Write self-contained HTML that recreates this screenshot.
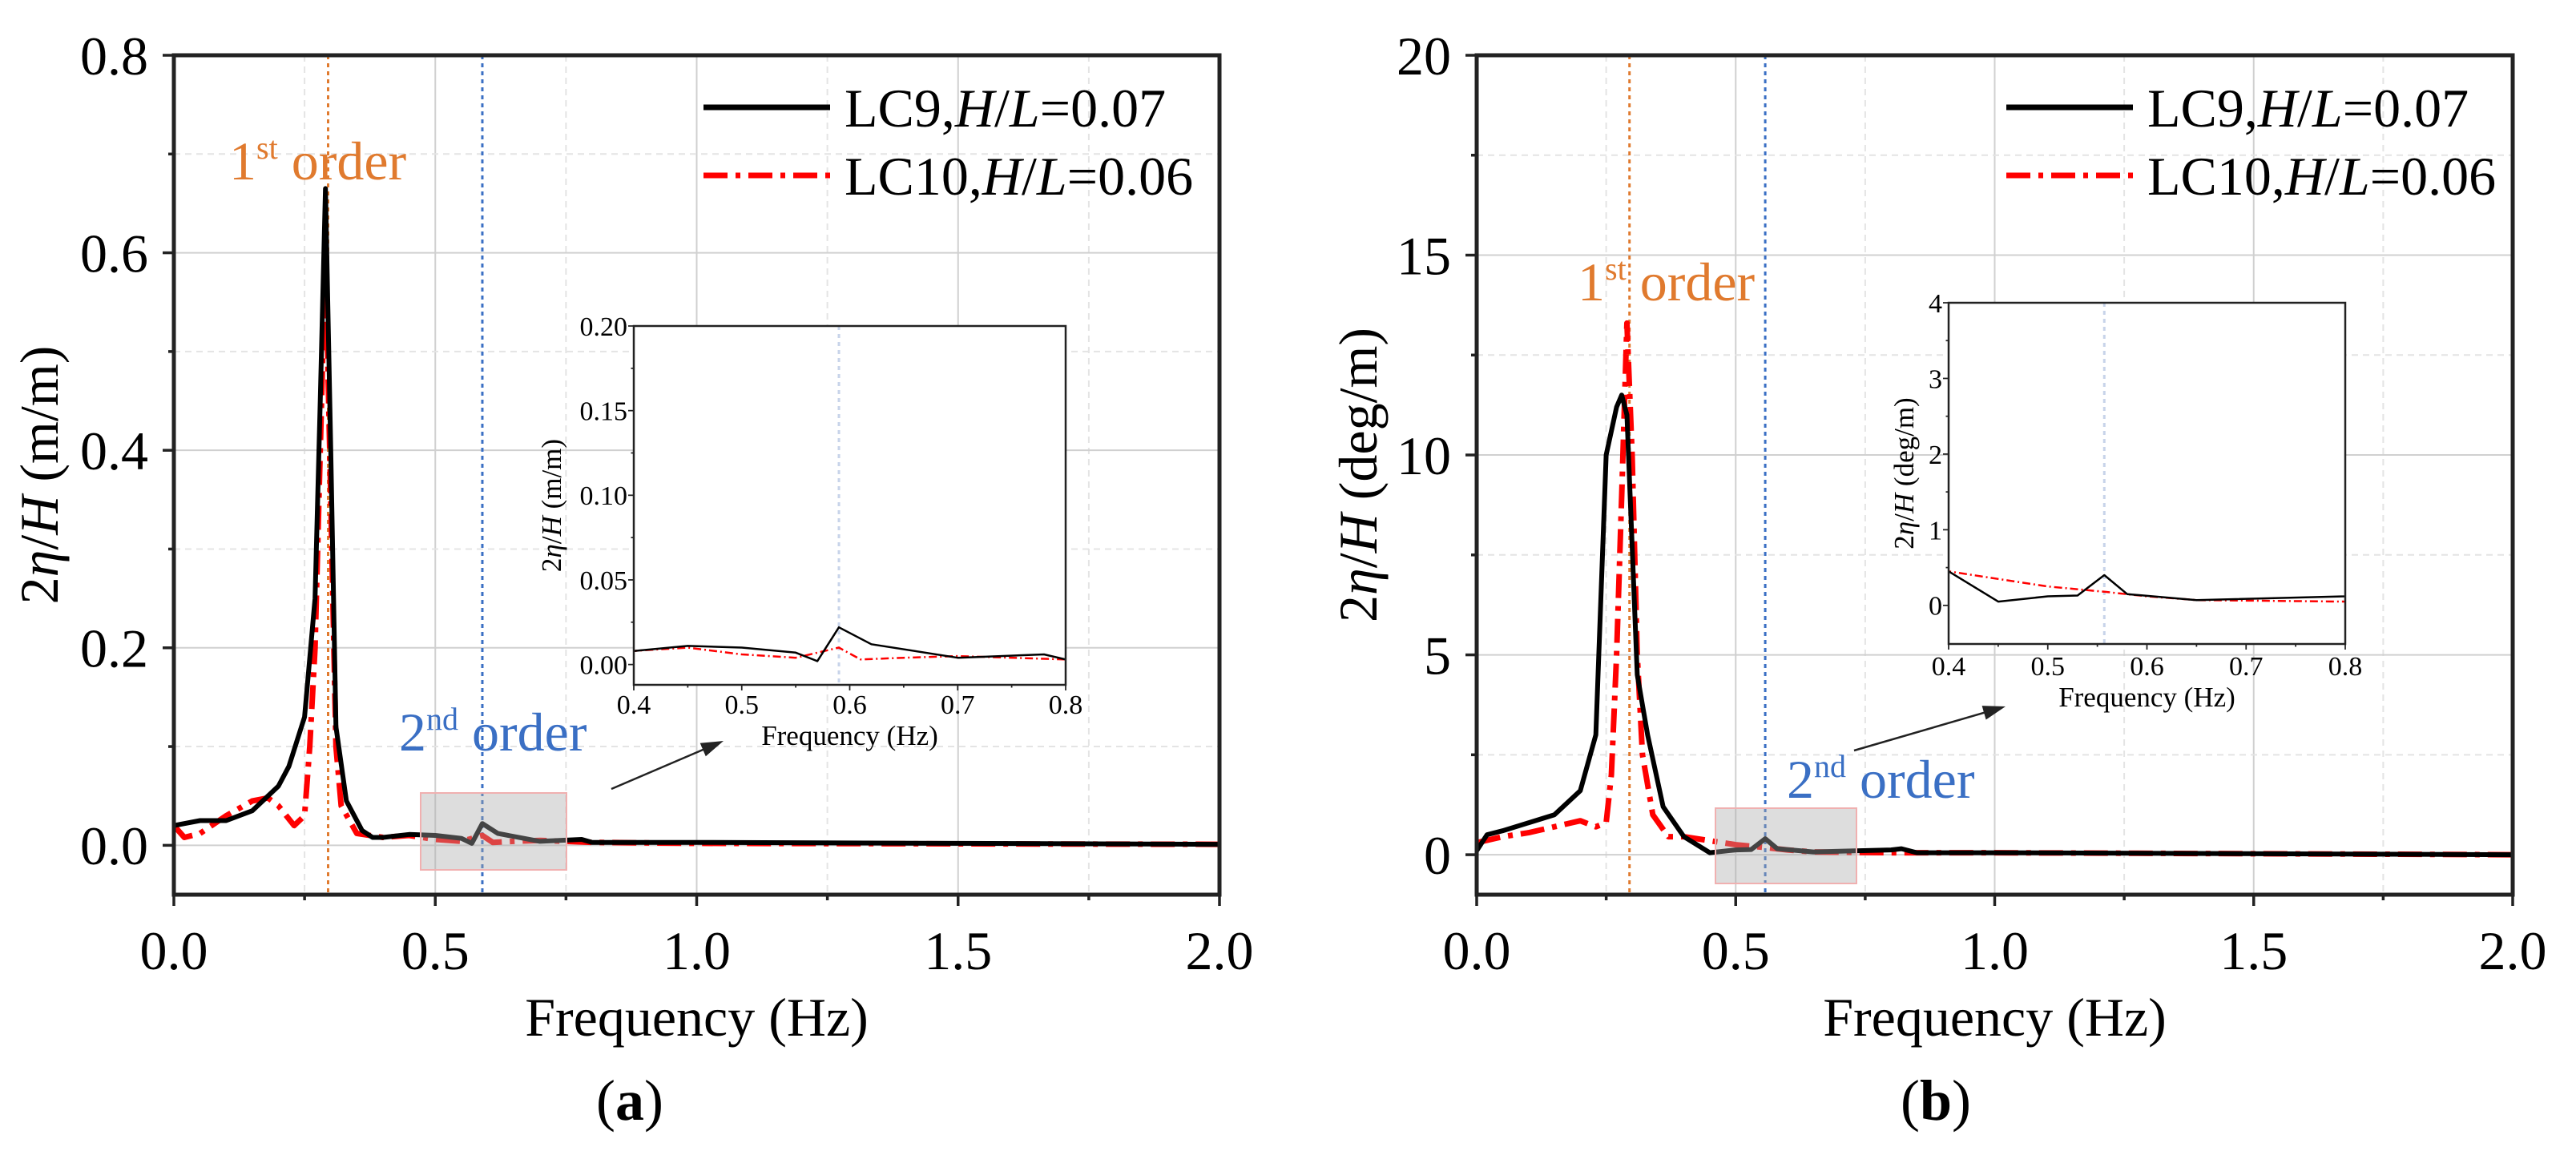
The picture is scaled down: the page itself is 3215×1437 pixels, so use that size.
<!DOCTYPE html>
<html><head><meta charset="utf-8">
<style>
html,body{margin:0;padding:0;background:#fff;}
svg{display:block;font-family:"Liberation Serif",serif;}
</style></head>
<body>
<svg id="fig" width="3215" height="1437" viewBox="0 0 3215 1437" xmlns="http://www.w3.org/2000/svg"></svg>
<script>
// ---- data ----
const aLC9F = [0,0.05,0.1,0.15,0.2,0.22,0.25,0.27,0.28,0.29,0.30,0.31,0.33,0.36,0.38,0.4,0.45,0.5,0.55,0.57,0.59,0.62,0.7,0.78,0.8,1.0,1.5,2.0];
const aLC9V = [0.02,0.025,0.025,0.035,0.06,0.08,0.13,0.25,0.45,0.665,0.4,0.12,0.045,0.015,0.008,0.008,0.011,0.01,0.007,0.002,0.022,0.012,0.004,0.006,0.003,0.003,0.002,0.001];
const aLC10F = [0,0.02,0.05,0.1,0.15,0.18,0.2,0.23,0.25,0.26,0.27,0.28,0.29,0.30,0.31,0.32,0.35,0.4,0.45,0.5,0.55,0.59,0.61,0.65,0.7,0.8,1.0,2.0];
const aLC10V = [0.02,0.008,0.012,0.03,0.045,0.048,0.04,0.02,0.03,0.1,0.2,0.4,0.6,0.35,0.1,0.04,0.012,0.008,0.01,0.006,0.004,0.01,0.003,0.004,0.005,0.003,0.002,0.001];
const bLC9F = [0,0.02,0.05,0.1,0.15,0.2,0.23,0.25,0.27,0.28,0.29,0.31,0.33,0.36,0.4,0.45,0.5,0.53,0.557,0.58,0.65,0.8,0.82,0.85,1.0,2.0];
const bLC9V = [0.1,0.5,0.6,0.8,1.0,1.6,3,10,11.2,11.5,11,4.5,3,1.2,0.45,0.05,0.12,0.13,0.4,0.15,0.07,0.12,0.15,0.05,0.05,0.0];
const bLC10F = [0,0.05,0.1,0.15,0.2,0.23,0.25,0.26,0.27,0.28,0.29,0.30,0.31,0.32,0.34,0.37,0.4,0.45,0.5,0.557,0.6,0.65,0.8,1.0,2.0];
const bLC10V = [0.3,0.45,0.55,0.7,0.85,0.7,0.8,2,5,9,13.3,10,5,2.5,1.0,0.45,0.45,0.35,0.25,0.18,0.12,0.07,0.05,0.05,0.0];
const aYTicks = ["0.0","0.2","0.4","0.6","0.8"];
const bYTicks = ["0","5","10","15","20"];
const xTicks = ["0.0","0.5","1.0","1.5","2.0"];
const aInsetYTicks = ["0.00","0.05","0.10","0.15","0.20"];
const bInsetYTicks = ["0","1","2","3","4"];
const insetXTicks = ["0.4","0.5","0.6","0.7","0.8"];

const NS="http://www.w3.org/2000/svg";
const svg=document.getElementById('fig');
let clipId=0;
function el(tag,attrs,parent){
  const e=document.createElementNS(NS,tag);
  for(const k in attrs) e.setAttribute(k,attrs[k]);
  (parent||svg).appendChild(e);
  return e;
}
function txt(x,y,s,size,parent,anchor){
  const t=el('text',{x:x,y:y,'font-size':size,'text-anchor':anchor||'middle',fill:'#000'},parent);
  t.textContent=s;return t;
}
function panel(cfg){
  const g=el('g',{});
  
  
  const X=v=>cfg.L+(v-cfg.x0)/(cfg.x1-cfg.x0)*(cfg.R-cfg.L);
  const Y=v=>cfg.B-(v-cfg.y0)/(cfg.y1-cfg.y0)*(cfg.B-cfg.T);
  const gg=el('g',{},g);
  
  
  const nx=cfg.xt.length, ny=cfg.yt.length;
  const xv=i=>cfg.xa+i*(cfg.xb-cfg.xa)/(nx-1);
  const yv=i=>cfg.ya+i*(cfg.yb-cfg.ya)/(ny-1);
  if(cfg.gw>0){
  for(let i=0;i<nx;i++){
    el('line',{x1:X(xv(i)),x2:X(xv(i)),y1:cfg.T,y2:cfg.B,stroke:'#d0d0d0','stroke-width':cfg.gw},gg);
    if(i<nx-1){const m=(xv(i)+xv(i+1))/2;
      el('line',{x1:X(m),x2:X(m),y1:cfg.T,y2:cfg.B,stroke:'#e4e4e4','stroke-width':cfg.gw,'stroke-dasharray':'8 6'},gg);}
  }
  for(let i=0;i<ny;i++){
    el('line',{x1:cfg.L,x2:cfg.R,y1:Y(yv(i)),y2:Y(yv(i)),stroke:'#d0d0d0','stroke-width':cfg.gw},gg);
    if(i<ny-1){const m=(yv(i)+yv(i+1))/2;
      el('line',{x1:cfg.L,x2:cfg.R,y1:Y(m),y2:Y(m),stroke:'#e4e4e4','stroke-width':cfg.gw,'stroke-dasharray':'8 6'},gg);}
  }}
  if(cfg.vlines) cfg.vlines.forEach(v=>{
    const l=el('line',{x1:X(v[0]),x2:X(v[0]),y1:cfg.T,y2:cfg.B,stroke:v[1],'stroke-width':3,'stroke-dasharray':'5 5'},g);
    
    
  });
  const cid='c'+(clipId++);
  const cp=el('clipPath',{id:cid},g);
  el('rect',{x:cfg.L,y:cfg.T,width:cfg.R-cfg.L,height:cfg.B-cfg.T},cp);
  cfg.series.forEach(s=>{
    let d='';
    for(let i=0;i<s.f.length;i++) d+=(i?'L':'M')+X(s.f[i]).toFixed(1)+','+Y(s.v[i]).toFixed(1);
    const p=el('path',{d:d,fill:'none',stroke:s.c,'stroke-width':s.w,'stroke-dasharray':s.dash||'none','clip-path':'url(#'+cid+')','stroke-linejoin':'round'},g);
    
    
  });
  const fr=el('rect',{x:cfg.L,y:cfg.T,width:cfg.R-cfg.L,height:cfg.B-cfg.T,fill:'none',stroke:'#222','stroke-width':cfg.fw},g);
  
  
  for(let i=0;i<nx;i++){
    el('line',{x1:X(xv(i)),x2:X(xv(i)),y1:cfg.B,y2:cfg.B+cfg.tl,stroke:'#222','stroke-width':cfg.fw*0.7},g);
    if(i<nx-1){const m=(xv(i)+xv(i+1))/2;el('line',{x1:X(m),x2:X(m),y1:cfg.B,y2:cfg.B+cfg.tl/2,stroke:'#222','stroke-width':cfg.fw*0.7},g);}
    const t=txt(X(xv(i)),cfg.xlY,cfg.xt[i],cfg.fs,g);
    
    
  }
  for(let i=0;i<ny;i++){
    el('line',{x1:cfg.L,x2:cfg.L-cfg.tl,y1:Y(yv(i)),y2:Y(yv(i)),stroke:'#222','stroke-width':cfg.fw*0.7},g);
    if(i<ny-1){const m=(yv(i)+yv(i+1))/2;el('line',{x1:cfg.L,x2:cfg.L-cfg.tl/2,y1:Y(m),y2:Y(m),stroke:'#222','stroke-width':cfg.fw*0.7},g);}
    const t=txt(cfg.L-cfg.ylpad,Y(yv(i))+cfg.fs*0.35,cfg.yt[i],cfg.fs,g,'end');
    
    
  }
  const xt=txt((cfg.L+cfg.R)/2,cfg.xtY,'Frequency (Hz)',cfg.ts,g);
  
  
  const yt=el('text',{x:0,y:0,'font-size':cfg.ts,'text-anchor':'middle',transform:'translate('+cfg.ytX+','+((cfg.T+cfg.B)/2)+') rotate(-90)'},g);
  yt.innerHTML='2<tspan font-style="italic">η</tspan>/<tspan font-style="italic">H</tspan> ('+cfg.unit+')';
  
  
  return {X:X,Y:Y,g:g};
}
function build(P){
  const m=panel({name:P.name,L:P.L,R:P.R,T:69,B:1117,x0:0,x1:2,y0:P.y0,y1:P.y1,xa:0,xb:2,ya:0,yb:P.y1,
    xt:xTicks,yt:P.yt,gw:2,fw:5,tl:14,fs:68,ts:68,xlY:1210,xtY:1293,ylpad:32,ytX:P.ytX,unit:P.unit,
    vlines:[[P.o1,'#e07a2e'],[P.o2,'#3a6fc4']],
    series:[{f:P.f10,v:P.v10,c:'#ff0000',w:7,dash:'30 10 6 10',name:'lc10-series'},{f:P.f9,v:P.v9,c:'#000',w:6,name:'lc9-series'}]});
  const g=m.g;
  const bx=el('rect',{x:P.box[0],y:P.box[1],width:P.box[2]-P.box[0],height:P.box[3]-P.box[1],fill:'rgba(170,170,170,0.4)',stroke:'#f0b0b0','stroke-width':2},g);
  
  
  const a=P.arrow;
  const ang=Math.atan2(a[3]-a[1],a[2]-a[0]);
  const ar=el('line',{x1:a[0],y1:a[1],x2:a[2]-Math.cos(ang)*20,y2:a[3]-Math.sin(ang)*20,stroke:'#222','stroke-width':2.5},g);
  
  
  const hx=a[2],hy=a[3],L=28,W=9;
  el('polygon',{points:hx+','+hy+' '+(hx-L*Math.cos(ang)+W*Math.sin(ang))+','+(hy-L*Math.sin(ang)-W*Math.cos(ang))+' '+(hx-L*Math.cos(ang)-W*Math.sin(ang))+','+(hy-L*Math.sin(ang)+W*Math.cos(ang)),fill:'#222'},g);
  const o1=el('text',{x:P.t1[0],y:P.t1[1],'font-size':68,fill:'#e07a2e'},g);
  o1.innerHTML='1<tspan font-size="40" dy="-26">st</tspan><tspan dy="26"> order</tspan>';
  
  
  const o2=el('text',{x:P.t2[0],y:P.t2[1],'font-size':68,fill:'#3a6fc4'},g);
  o2.innerHTML='2<tspan font-size="40" dy="-26">nd</tspan><tspan dy="26"> order</tspan>';
  
  
  const lg=el('g',{},g);
  
  
  const e1=el('line',{x1:P.leg,x2:P.leg+158,y1:134,y2:134,stroke:'#000','stroke-width':7},lg);
  
  
  const t1=el('text',{x:P.leg+176,y:158,'font-size':68},lg);
  t1.innerHTML='LC9,<tspan font-style="italic">H</tspan>/<tspan font-style="italic">L</tspan>=0.07';
  
  
  const e2=el('line',{x1:P.leg,x2:P.leg+158,y1:219,y2:219,stroke:'#ff0000','stroke-width':7,'stroke-dasharray':'30 10 6 10'},lg);
  
  
  const t2=el('text',{x:P.leg+176,y:243,'font-size':68},lg);
  t2.innerHTML='LC10,<tspan font-style="italic">H</tspan>/<tspan font-style="italic">L</tspan>=0.06';
  
  
  const I=P.inset;
  const bg=el('rect',{x:I.L,y:I.T,width:I.R-I.L,height:I.B-I.T,fill:'#fff'},g);
  
  
  panel({name:P.name+'-inset',L:I.L,R:I.R,T:I.T,B:I.B,x0:0.4,x1:0.8,y0:I.y0,y1:I.y1,xa:0.4,xb:0.8,ya:0,yb:I.y1,
    xt:insetXTicks,yt:P.iyt,gw:0,fw:2.5,tl:7,fs:34,ts:35,xlY:I.xlY,xtY:I.xtY,ylpad:8,ytX:I.ytX,unit:P.unit,
    vlines:[[P.o2,'#c8d4ea']],
    series:[{f:P.f10,v:P.v10,c:'#ff0000',w:2.5,dash:'10 4 2 4',name:'inset-lc10-series'},{f:P.f9,v:P.v9,c:'#000',w:2.5,name:'inset-lc9-series'}]});
  const pl=el('text',{x:P.lab,y:1398,'font-size':72,'text-anchor':'middle'},g);
  pl.innerHTML='(<tspan font-weight="bold">'+P.letter+'</tspan>)';
  
  
}
build({name:'panel-a',L:217,R:1522,y0:-0.05,y1:0.8,yt:aYTicks,ytX:72,unit:'m/m',o1:0.295,o2:0.59,
  f9:aLC9F,v9:aLC9V,f10:aLC10F,v10:aLC10V,box:[525,990,707,1086],arrow:[763,985,903,925],
  t1:[286,224],t2:[498,937],leg:878,lab:786,letter:'a',iyt:aInsetYTicks,
  inset:{L:791,R:1330,T:407,B:855,y0:-0.012,y1:0.2,xlY:891,xtY:930,ytX:700}});
build({name:'panel-b',L:1843,R:3136,y0:-1,y1:20,yt:bYTicks,ytX:1718,unit:'deg/m',o1:0.295,o2:0.557,
  f9:bLC9F,v9:bLC9V,f10:bLC10F,v10:bLC10V,box:[2141,1009,2317,1103],arrow:[2314,937,2503,882],
  t1:[1969,375],t2:[2230,996],leg:2504,lab:2416,letter:'b',iyt:bInsetYTicks,
  inset:{L:2432,R:2927,T:378,B:804,y0:-0.51,y1:4,xlY:843,xtY:882,ytX:2388}});
</script>
</body></html>
